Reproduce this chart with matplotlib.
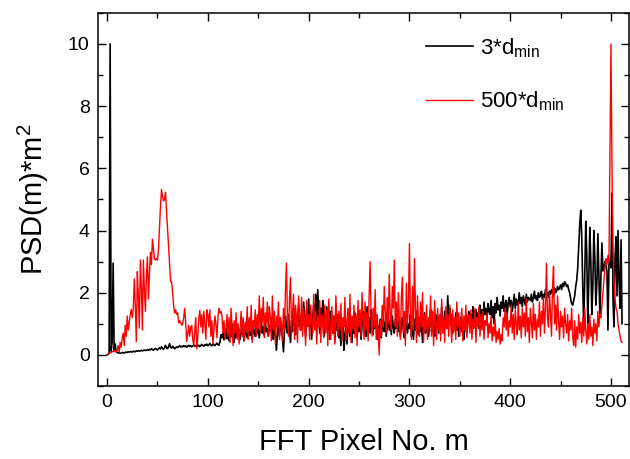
import matplotlib
matplotlib.use("Agg")
import matplotlib.pyplot as plt
from matplotlib.ticker import MultipleLocator

# ---- data ----
psd_3dmin = [
    0, 0.02, 0.05, 10.0, 0.12, 0.4, 2.95, 0.15, 0.35, 0.1,
    0.08, 0.06, 0.07, 0.05, 0.06, 0.08, 0.07, 0.06, 0.08, 0.09,
    0.08, 0.1, 0.09, 0.11, 0.1, 0.09, 0.12, 0.11, 0.1, 0.13,
    0.12, 0.14, 0.12, 0.13, 0.15, 0.13, 0.14, 0.16, 0.14, 0.15,
    0.17, 0.15, 0.18, 0.16, 0.2, 0.17, 0.15, 0.19, 0.21, 0.18,
    0.16, 0.2, 0.23, 0.19, 0.26, 0.21, 0.18, 0.24, 0.31, 0.22,
    0.2, 0.27, 0.36, 0.25, 0.22, 0.28, 0.24, 0.2, 0.23, 0.26,
    0.24, 0.27, 0.3, 0.25, 0.28, 0.26, 0.3, 0.27, 0.29, 0.25,
    0.28, 0.31, 0.27, 0.3, 0.26, 0.29, 0.32, 0.28, 0.3, 0.33,
    0.29, 0.31, 0.27, 0.3, 0.34, 0.3, 0.28, 0.33, 0.31, 0.35,
    0.3, 0.33, 0.37, 0.31, 0.29, 0.36, 0.32, 0.3, 0.34, 0.38,
    0.33, 0.31, 0.42, 0.65, 0.55, 0.72, 0.48, 0.6, 0.85, 0.52,
    0.7, 0.45, 0.9, 0.58, 1.0, 0.62, 0.4, 0.78, 0.55, 0.95,
    0.6, 0.82, 0.5, 0.7, 1.05, 0.65, 0.45, 0.88, 0.7, 0.55,
    0.75, 1.1, 0.62, 0.8, 0.5, 0.95, 0.72, 0.6, 1.0, 0.68,
    0.85, 0.55, 0.78, 1.15, 0.7, 0.9, 0.62, 1.05, 0.75, 0.85,
    0.6, 0.95, 0.78, 1.2, 0.7, 0.5, 0.88, 0.65, 0.15, 0.7,
    0.95, 0.6, 1.1, 0.8, 0.55, 0.1, 0.75, 1.25, 0.9, 0.7,
    1.3, 0.85, 0.4, 1.1, 0.75, 1.5, 1.0, 0.65, 1.2, 0.9,
    1.6, 1.1, 0.8, 1.35, 0.95, 1.7, 1.2, 0.6, 1.45, 1.05,
    1.8, 0.9, 1.3, 0.5, 1.2, 1.6, 0.85, 1.95, 1.1, 2.1,
    1.3, 0.7, 1.5, 1.0, 1.75, 0.6, 1.2, 0.9, 1.55, 0.8,
    1.1, 0.5, 1.4, 0.95, 0.7, 1.25, 0.45, 1.05, 0.8, 1.3,
    0.55, 0.9, 0.3, 0.8, 1.15, 0.15, 0.6, 1.0, 0.35, 0.85,
    1.2, 0.6, 0.95, 0.4, 1.1, 0.7, 1.35, 0.9, 0.55, 1.0,
    0.75, 1.25, 0.5, 0.95, 1.4, 0.8, 1.1, 0.6, 1.55, 0.9,
    1.2, 0.7, 1.45, 1.0, 0.65, 1.3, 0.85, 1.1, 0.5, 0.95,
    0.7, 1.15, 0.55, 0.9, 1.3, 0.75, 1.05, 0.6, 0.95, 1.2,
    0.8, 1.1, 0.65, 1.25, 0.9, 0.7, 1.15, 0.85, 1.3, 0.75,
    1.05, 0.6, 0.95, 1.2, 0.8, 0.55, 1.1, 0.9, 0.7, 1.0,
    0.85, 1.3, 0.6, 0.95, 0.5, 1.15, 0.8, 1.4, 0.9, 0.65,
    1.2, 0.75, 1.05, 0.4, 0.9, 1.35, 0.7, 1.1, 0.85, 0.6,
    1.0, 1.45, 0.75, 1.2, 0.95, 0.6, 1.3, 0.85, 1.1, 0.7,
    1.25, 0.9, 1.55, 1.0, 0.75, 1.4, 1.1, 0.85, 1.9, 1.2,
    1.5, 0.95, 1.3, 0.7, 1.15, 0.9, 1.35, 0.8, 1.05, 0.6,
    0.95, 1.2, 0.75, 1.1, 0.5, 0.85, 1.3, 0.9, 1.15, 1.4,
    1.0, 1.3, 0.8, 1.55, 1.2, 0.9, 1.45, 1.1, 1.35, 0.85,
    1.6, 1.25, 1.45, 1.1, 1.7, 1.3, 1.5, 1.2, 1.65, 1.4,
    1.3, 1.75, 1.2, 1.55, 1.0, 1.65, 1.35, 1.85, 1.45, 1.6,
    1.25, 1.7, 1.5, 1.9, 1.4, 1.6, 1.75, 1.3, 1.65, 1.85,
    1.55, 1.75, 1.4, 1.65, 1.95, 1.5, 1.8, 1.6, 1.7, 2.0,
    1.65, 1.85, 1.55, 1.9, 1.75, 1.6, 1.95, 1.7, 1.85, 1.8,
    1.75, 1.95, 1.7, 1.85, 2.05, 1.8, 1.9, 1.75, 2.0, 1.85,
    1.9, 2.05, 1.8, 1.95, 1.85, 2.1, 1.9, 2.0, 1.85, 2.05,
    1.95, 2.1, 2.0, 1.9, 2.15, 2.0, 2.05, 2.2, 2.1, 2.15,
    2.25, 2.1, 2.3, 2.2, 2.35, 2.3, 2.2, 2.25, 2.1, 2.0,
    1.8, 1.65, 1.6, 1.75, 1.9, 2.2, 2.4, 2.8, 3.5, 4.2,
    4.65, 3.8, 2.2, 0.8, 2.5, 4.3, 3.2, 1.0, 2.4, 4.1,
    3.0, 1.3, 2.2, 4.0, 3.1, 1.6, 2.3, 3.9, 2.6, 1.2,
    2.5, 3.6, 2.7, 2.8, 3.0, 2.9, 2.7, 0.8, 2.9, 3.1,
    2.8, 5.2, 1.8, 0.9, 3.1, 3.8, 1.9, 4.0, 2.4, 1.5,
    3.7, 1.0,
]

psd_500dmin = [
    0.0, 0.02, 0.05, 0.06, 0.08, 0.1, 0.12, 0.1, 0.15, 0.12,
    0.15, 0.3, 0.1, 0.4, 0.25, 0.55, 0.7, 0.3, 0.95, 0.6,
    1.25, 0.8, 1.05, 1.3, 1.46, 1.2, 1.5, 2.45, 1.6, 0.43,
    2.68, 1.9, 0.86, 3.05, 2.2, 0.8, 3.05, 2.1, 1.4, 2.5,
    3.15, 1.8, 2.6, 3.3, 2.9, 3.72, 3.4, 3.1, 3.05, 3.1,
    3.05, 3.4, 4.1, 4.8, 5.32, 5.1, 4.95, 5.0, 5.23, 4.6,
    4.07, 3.5, 2.9, 2.36, 2.35, 2.0, 1.6, 1.35, 1.45, 1.3,
    1.35, 1.03, 1.1, 1.05, 0.95, 1.0, 1.2, 1.5, 1.03, 0.43,
    0.7, 0.95, 0.6, 0.9, 0.95, 0.5, 0.3, 0.8, 1.2, 0.2,
    0.6, 1.16, 1.43, 0.9, 1.3, 0.7, 1.4, 1.0, 0.5, 1.45,
    1.3, 0.9, 1.45, 0.6, 1.1, 0.35, 0.8, 1.25, 1.0, 0.55,
    1.2, 1.5, 1.35, 1.4, 1.25, 0.7, 1.1, 0.5, 0.85, 1.3,
    0.6, 1.2, 0.4, 1.5, 0.9, 0.3, 1.1, 0.7, 1.35, 0.5,
    1.0, 0.35, 0.9, 1.4, 0.6, 1.2, 0.45, 1.05, 0.8, 1.55,
    0.5, 1.2, 0.75, 1.6, 0.4, 1.1, 0.9, 1.45, 0.6, 1.3,
    0.85, 1.9, 0.7, 1.5, 1.05, 1.85, 0.55, 1.35, 1.0, 1.7,
    0.6, 1.55, 1.2, 0.45, 1.9, 0.8, 1.4, 0.35, 1.25, 0.9,
    1.7, 0.5, 1.2, 1.0, 0.45, 1.5, 0.8, 2.1, 2.95, 1.1,
    0.6, 1.8, 2.5, 0.7, 1.3, 1.95, 0.5, 1.6, 1.1, 0.4,
    1.9, 1.2, 0.8, 1.85, 0.6, 1.5, 1.0, 0.3, 1.75, 0.9,
    1.3, 0.5, 1.6, 1.1, 0.7, 1.95, 0.8, 1.4, 0.35, 1.2,
    0.9, 1.75, 0.4, 1.3, 1.0, 0.55, 1.6, 0.7, 1.45, 0.3,
    1.8, 0.95, 0.5, 1.55, 0.7, 1.25, 0.35, 1.9, 1.1, 0.6,
    1.4, 0.8, 1.65, 0.45, 1.2, 0.9, 1.85, 0.5, 1.05, 1.5,
    0.7, 1.95, 0.4, 1.25, 0.85, 1.6, 0.55, 1.3, 0.3, 1.75,
    0.9, 1.45, 0.6, 2.0, 1.1, 0.5, 1.7, 0.8, 1.35, 0.45,
    1.9, 3.0, 1.2, 0.6, 1.5, 0.9, 2.1, 0.5, 1.3, 0.75,
    0.0, 1.1, 0.6, 1.6, 0.9, 2.2, 1.4, 0.7, 1.85, 1.0,
    2.6, 1.2, 0.8, 2.2, 1.5, 3.05, 0.9, 1.7, 0.6, 2.0,
    1.1, 0.5, 1.8, 2.5, 0.7, 1.4, 0.3, 2.3, 1.0, 1.6,
    3.59, 1.2, 0.5, 2.2, 0.8, 3.1, 1.5, 0.4, 1.9, 1.0,
    0.6, 1.7, 0.9, 2.0, 0.4, 1.3, 0.8, 1.6, 0.5, 1.2,
    0.9, 1.9, 0.6, 1.4, 0.3, 1.75, 1.0, 0.5, 1.5, 0.8,
    1.3, 0.45, 1.8, 0.7, 1.2, 0.4, 1.55, 0.85, 1.3, 0.6,
    1.6, 1.0, 0.4, 1.45, 0.75, 1.2, 0.5, 1.7, 0.9, 1.35,
    0.6, 1.1, 1.5, 0.45, 1.25, 0.8, 1.6, 0.55, 1.0, 1.3,
    0.7, 1.45, 0.5, 1.15, 0.85, 1.5, 0.4, 1.2, 0.9, 1.55,
    0.6, 1.3, 0.8, 1.4, 0.5, 1.1, 0.95, 1.35, 0.55, 1.0,
    0.7, 1.25, 0.45, 0.9, 0.6, 1.15, 0.4, 0.75, 0.5, 0.85,
    0.35, 0.65, 0.45, 1.2, 0.9, 1.5, 0.8, 1.35, 0.6, 1.1,
    0.9, 1.6, 0.7, 1.3, 0.5, 1.45, 1.0, 0.65, 1.7, 0.8,
    1.25, 0.55, 1.5, 0.9, 1.35, 0.6, 1.8, 0.75, 1.2, 0.4,
    1.5, 1.0, 0.55, 1.65, 0.8, 1.3, 0.5, 1.15, 0.9, 1.7,
    0.6, 1.4, 1.0, 1.85, 0.7, 1.5, 2.95, 1.2, 0.9, 2.0,
    1.3, 0.6, 2.2, 2.85, 1.0, 1.6, 0.8, 1.9, 1.1, 0.5,
    1.4, 0.9, 1.25, 0.55, 1.5, 1.0, 0.7, 1.3, 0.45, 1.1,
    0.8, 1.5, 0.6, 0.3, 1.1, 0.25, 0.9, 0.5, 1.3, 0.7,
    1.05, 0.4, 1.2, 0.6, 1.5, 0.8, 0.35, 1.0, 0.5, 1.3,
    0.6, 0.9, 0.3, 1.15, 0.7, 1.0, 0.45, 1.4, 0.9, 1.3,
    1.2, 1.6, 2.0, 2.4, 2.8, 3.1, 2.9, 3.2, 3.0, 6.5,
    10.0, 6.0, 3.4, 2.4, 1.8, 1.5, 1.4, 1.0, 0.8, 0.6,
    0.45, 0.4,
]

pixel_3dmin = list(range(len(psd_3dmin)))
pixel_500dmin = list(range(len(psd_500dmin)))

series_labels = [r"3*d$_{\mathrm{min}}$", r"500*d$_{\mathrm{min}}$"]
x_label = "FFT Pixel No. m"
y_label = r"PSD(m)*m$^{2}$"

# ---- style ----
plt.rcParams["font.family"] = ["Liberation Sans", "DejaVu Sans"]
plt.rcParams["mathtext.fontset"] = "custom"
plt.rcParams["mathtext.rm"] = "Liberation Sans"
plt.rcParams["mathtext.it"] = "Liberation Sans:italic"

fig = plt.figure(figsize=(6.30, 4.59), dpi=100)
ax = fig.add_axes([0.1556, 0.159, 0.843, 0.813])

ax.plot(pixel_3dmin, psd_3dmin, color="black", lw=1.2, label=series_labels[0])
ax.plot(pixel_500dmin, psd_500dmin, color="red", lw=1.0, label=series_labels[1])

ax.set_xlim(-9, 518)
ax.set_ylim(-1, 11)
ax.xaxis.set_major_locator(MultipleLocator(100))
ax.xaxis.set_minor_locator(MultipleLocator(50))
ax.yaxis.set_major_locator(MultipleLocator(2))
ax.yaxis.set_minor_locator(MultipleLocator(1))

for s in ax.spines.values():
    s.set_linewidth(1.1)
ax.tick_params(which="both", direction="in", top=True, right=True, width=1.0)
ax.tick_params(which="major", length=5.5, labelsize=14, pad=6)
ax.tick_params(which="minor", length=3.8)

ax.set_xlabel(x_label, fontsize=21, labelpad=12)
ax.set_ylabel(y_label, fontsize=21, labelpad=12)

leg = ax.legend(loc="upper left", bbox_to_anchor=(0.6, 0.962), frameon=False,
                fontsize=16, handlelength=2.15, handletextpad=0.3,
                labelspacing=1.35, borderaxespad=0)

fig.savefig("out.png", dpi=100)
